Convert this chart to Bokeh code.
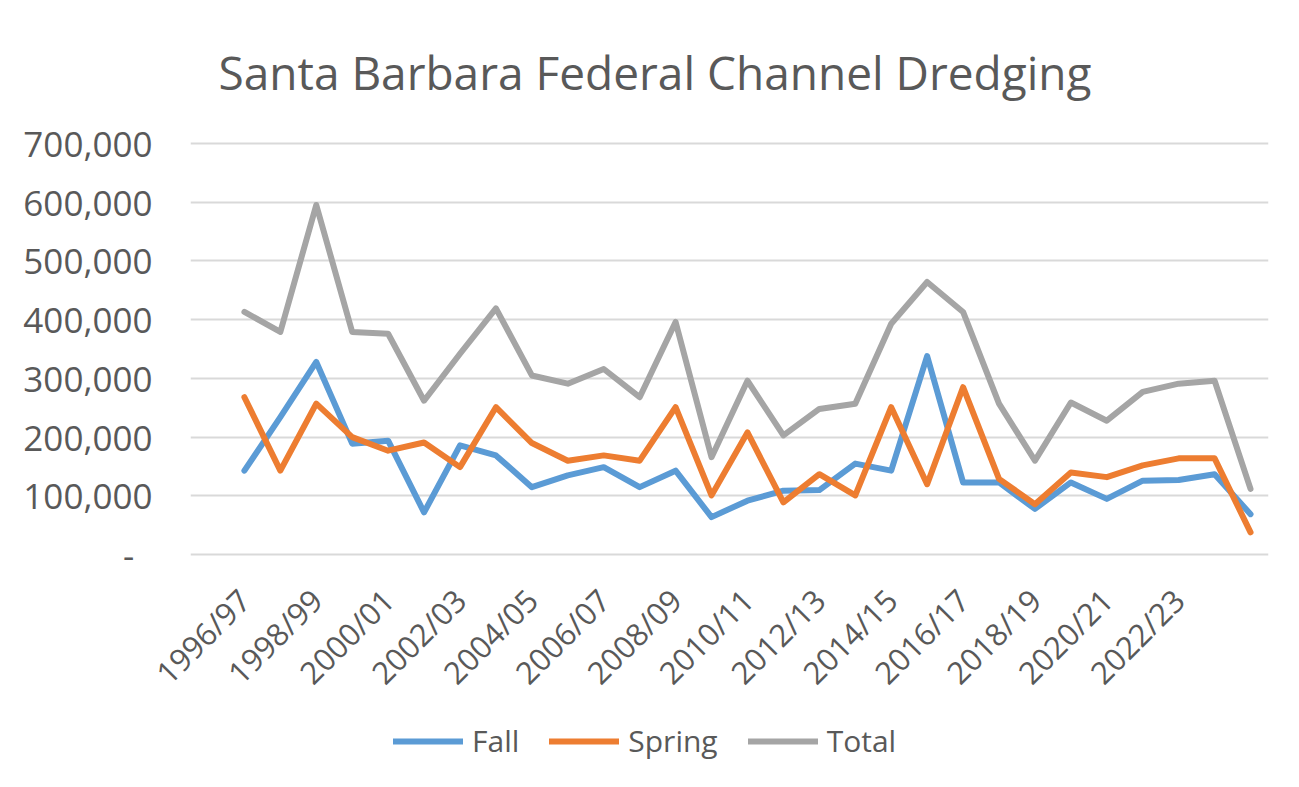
import math
from bokeh.plotting import figure
from bokeh.layouts import column
from bokeh.models import (ColumnDataSource, FixedTicker, NumeralTickFormatter,
                          Range1d, Legend, LegendItem)
from bokeh.embed import file_html
from bokeh.resources import INLINE

# ---- data ----
years = ["1996/97", "1997/98", "1998/99", "1999/00", "2000/01", "2001/02",
         "2002/03", "2003/04", "2004/05", "2005/06", "2006/07", "2007/08",
         "2008/09", "2009/10", "2010/11", "2011/12", "2012/13", "2013/14",
         "2014/15", "2015/16", "2016/17", "2017/18", "2018/19", "2019/20",
         "2020/21", "2021/22", "2022/23", "2023/24", "2024/25"]
fall = [143000, 234000, 328000, 189000, 194000, 72000, 186000, 169000,
        115000, 135000, 149000, 115000, 143000, 64000, 92000, 109000,
        110000, 155000, 143000, 338000, 123000, 123000, 78000, 123000,
        95000, 126000, 127000, 137000, 69000]
spring = [268000, 143000, 257000, 200000, 177000, 191000, 149000, 251000,
          190000, 160000, 169000, 160000, 251000, 101000, 208000, 89000,
          137000, 101000, 251000, 120000, 285000, 129000, 86000, 140000,
          132000, 152000, 164000, 164000, 38000]
total = [413000, 379000, 595000, 379000, 376000, 262000, 342000, 419000,
         305000, 291000, 316000, 268000, 396000, 166000, 296000, 203000,
         248000, 257000, 393000, 464000, 413000, 257000, 160000, 259000,
         228000, 277000, 291000, 296000, 112000]
y_ticks = [0, 100000, 200000, 300000, 400000, 500000, 600000, 700000]
series_names = ["Fall", "Spring", "Total"]
colors = ["#5B9BD5", "#ED7D31", "#A5A5A5"]

FONT = "Open Sans"
TXT = "#595959"

idx = list(range(len(years)))
src = ColumnDataSource(dict(x=idx, fall=fall, spring=spring, total=total))

p = figure(width=1283, height=715, output_backend="svg", toolbar_location=None,
           x_range=Range1d(-1.5, len(years) - 0.5),
           y_range=Range1d(-3000, 703000),
           min_border_left=190, min_border_right=15,
           min_border_top=141, min_border_bottom=159)

p.title.text = "Santa Barbara Federal Channel Dredging"
p.title.align = "left"
p.title.offset = 28
p.title.text_font = FONT
p.title.text_font_size = "46px"
p.title.text_font_style = "normal"
p.title.text_color = TXT
p.title.standoff = 77

p.outline_line_color = None
p.background_fill_color = "white"
p.border_fill_color = "white"

# y axis
p.yaxis.ticker = FixedTicker(ticks=y_ticks)
p.yaxis.formatter = NumeralTickFormatter(format="0,0")
p.yaxis.major_label_overrides = {0: "-\u00a0\u00a0"}
p.yaxis.major_label_text_font = FONT
p.yaxis.major_label_text_font_size = "35px"
p.yaxis.major_label_text_color = TXT
p.yaxis.axis_line_color = None
p.yaxis.major_tick_line_color = None
p.yaxis.minor_tick_line_color = None
p.yaxis.major_tick_out = 0
p.yaxis.major_tick_in = 0
p.yaxis.major_label_standoff = 38

# x axis
x_label_ticks = list(range(0, len(years) - 2, 2))
p.xaxis.ticker = FixedTicker(ticks=x_label_ticks)
p.xaxis.major_label_overrides = {i: years[i] for i in x_label_ticks}
p.xaxis.major_label_orientation = math.pi / 4
p.xaxis.major_label_text_font = FONT
p.xaxis.major_label_text_font_size = "31px"
p.xaxis.major_label_text_color = TXT
p.xaxis.axis_line_color = None
p.xaxis.major_tick_line_color = None
p.xaxis.minor_tick_line_color = None
p.xaxis.major_tick_out = 0
p.xaxis.major_tick_in = 0
p.xaxis.major_label_standoff = 38

p.xgrid.grid_line_color = None
p.ygrid.grid_line_color = "#D9D9D9"
p.ygrid.grid_line_width = 2

for col, c in zip(["fall", "spring", "total"], colors):
    p.line("x", col, source=src, line_color=c, line_width=6,
           line_join="round", line_cap="round")

# ---- legend strip below the chart ----
lg = figure(width=1283, height=56, output_backend="svg", toolbar_location=None,
            x_range=Range1d(0, 1), y_range=Range1d(0, 1),
            x_axis_location=None, y_axis_location=None,
            min_border=0)
lg.outline_line_color = None
lg.grid.grid_line_color = None
lg.background_fill_color = "white"
lg.border_fill_color = "white"
# single-point lines: nothing is drawn in the strip, only the legend swatches
leg_renderers = [lg.line(x=[-1], y=[-1], line_color=c, line_width=6,
                         line_cap="round")
                 for c in colors]
legend = Legend(items=[LegendItem(label=n, renderers=[r])
                       for n, r in zip(series_names, leg_renderers)],
                orientation="horizontal", location=(203, 10))
legend.label_text_font = FONT
legend.label_text_font_size = "30px"
legend.label_text_color = TXT
legend.glyph_width = 70
legend.glyph_height = 30
legend.label_height = 30
legend.label_standoff = 9
legend.spacing = 30
legend.padding = 0
legend.margin = 0
legend.border_line_color = None
legend.background_fill_alpha = 0
lg.add_layout(legend)

layout = column(p, lg, spacing=0)
open("out.html", "w").write(file_html(layout, INLINE))
